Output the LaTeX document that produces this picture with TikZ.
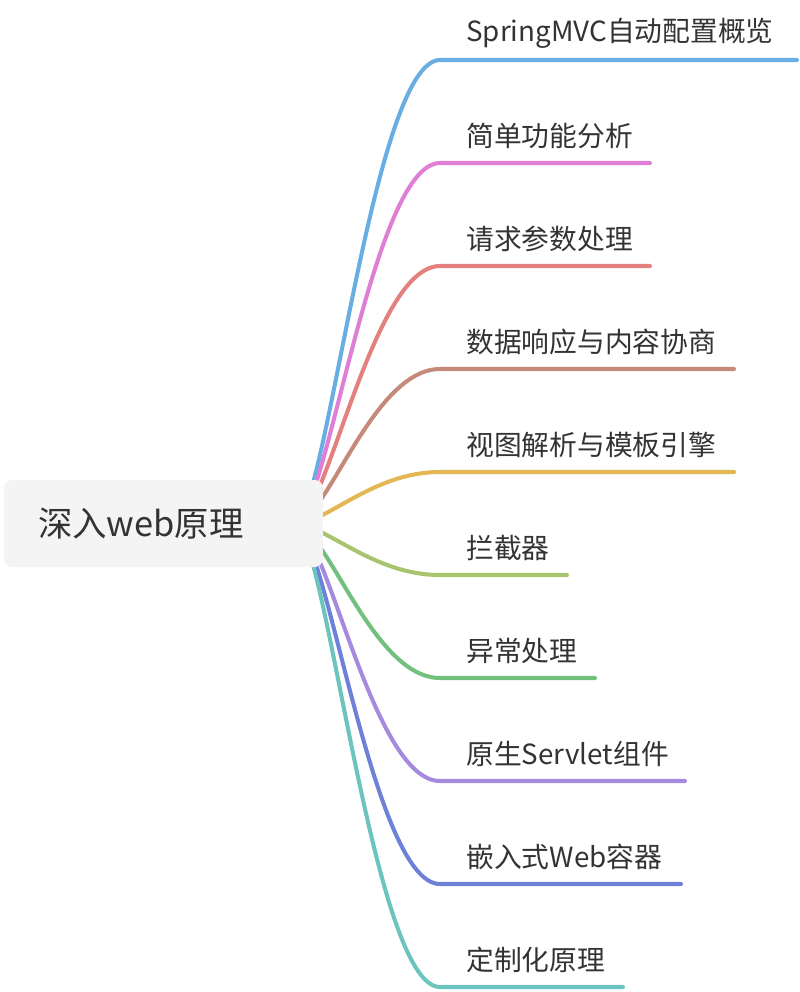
\documentclass[tikz,border=0pt]{standalone}
\usepackage{fontspec}
\setmainfont{Noto Sans CJK SC}
\usepackage{xcolor}
\usepackage{tikz}
\usetikzlibrary{positioning,backgrounds}
\definecolor{grisFond}{RGB}{244,244,244}
\definecolor{texteFonce}{RGB}{51,51,51}
\definecolor{brBleu}{RGB}{104,174,226}
\definecolor{brRose}{RGB}{224,126,214}
\definecolor{brRouge}{RGB}{228,128,126}
\definecolor{brBrun}{RGB}{198,138,122}
\definecolor{brJaune}{RGB}{226,183,84}
\definecolor{brOlive}{RGB}{168,196,110}
\definecolor{brVert}{RGB}{114,192,126}
\definecolor{brMauve}{RGB}{166,138,222}
\definecolor{brIndigo}{RGB}{110,128,216}
\definecolor{brTurquoise}{RGB}{108,196,190}

\begin{document}
\begin{tikzpicture}[x=0.02cm, y=-0.02cm,
  racine/.style={fill=grisFond, draw=none, rounded corners=0.16cm,
    minimum width=6.38cm, minimum height=1.74cm, inner xsep=0.68cm,
    text width=5.02cm, align=left, text=texteFonce,
    font=\fontsize{19.6}{23}\selectfont},
  etiquette/.style={anchor=west, inner sep=0pt, text=texteFonce,
    font=\fontsize{15.8}{19}\selectfont},
  branche/.style={line width=2.3pt, line cap=round}]

\useasboundingbox (0,0) rectangle (800,992);

\node[racine] (racine) at (163.5,523.5) {深入web原理};
\coordinate (hub) at (294,524);

% sujets
\node[etiquette] (t1) at (466,33) {SpringMVC自动配置概览};
\node[etiquette] (t2) at (466,136) {简单功能分析};
\node[etiquette] (t3) at (466,239) {请求参数处理};
\node[etiquette] (t4) at (466,342) {数据响应与内容协商};
\node[etiquette] (t5) at (466,445) {视图解析与模板引擎};
\node[etiquette] (t6) at (466,548) {拦截器};
\node[etiquette] (t7) at (466,651) {异常处理};
\node[etiquette] (t8) at (466,754) {原生Servlet组件};
\node[etiquette] (t9) at (466,857) {嵌入式Web容器};
\node[etiquette] (t10) at (466,960) {定制化原理};

% traits sous les sujets
\coordinate (d1) at (440,60);   \coordinate (f1) at (797,60);
\coordinate (d2) at (440,163);  \coordinate (f2) at (650,163);
\coordinate (d3) at (440,266);  \coordinate (f3) at (650,266);
\coordinate (d4) at (440,369);  \coordinate (f4) at (734,369);
\coordinate (d5) at (440,472);  \coordinate (f5) at (734,472);
\coordinate (d6) at (440,575);  \coordinate (f6) at (567,575);
\coordinate (d7) at (440,678);  \coordinate (f7) at (595,678);
\coordinate (d8) at (440,781);  \coordinate (f8) at (685,781);
\coordinate (d9) at (440,884);  \coordinate (f9) at (681,884);
\coordinate (d10) at (440,987); \coordinate (f10) at (623,987);

\begin{scope}[on background layer]
\draw[branche, brBleu] (hub) .. controls (326,524) and (372,60) .. (d1) -- (f1);
\draw[branche, brRose] (hub) .. controls (326,524) and (372,163) .. (d2) -- (f2);
\draw[branche, brRouge] (hub) .. controls (326,524) and (372,266) .. (d3) -- (f3);
\draw[branche, brBrun] (hub) .. controls (326,524) and (372,369) .. (d4) -- (f4);
\draw[branche, brJaune] (hub) .. controls (326,524) and (372,472) .. (d5) -- (f5);
\draw[branche, brOlive] (hub) .. controls (326,524) and (372,575) .. (d6) -- (f6);
\draw[branche, brVert] (hub) .. controls (326,524) and (372,678) .. (d7) -- (f7);
\draw[branche, brMauve] (hub) .. controls (326,524) and (372,781) .. (d8) -- (f8);
\draw[branche, brIndigo] (hub) .. controls (326,524) and (372,884) .. (d9) -- (f9);
\draw[branche, brTurquoise] (hub) .. controls (326,524) and (372,987) .. (d10) -- (f10);
\end{scope}

\end{tikzpicture}
\end{document}
